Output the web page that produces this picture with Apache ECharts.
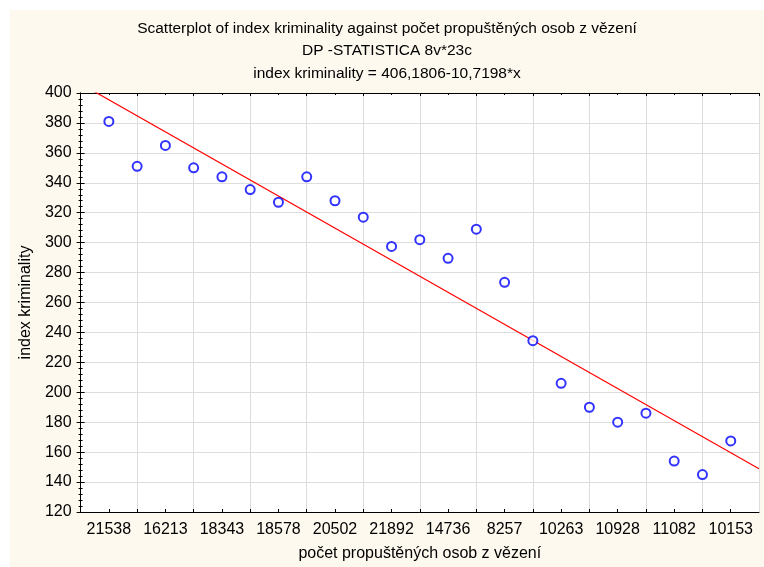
<!DOCTYPE html>
<html>
<head>
<meta charset="utf-8">
<script src="https://cdn.jsdelivr.net/npm/echarts@6/dist/echarts.min.js"></script>
<style>
  html, body { margin: 0; padding: 0; background: #ffffff; }
  #chart { position: absolute; left: 10px; top: 10px; width: 754px; height: 557px; background: #fdf9ef; }
</style>
</head>
<body>
<div id="chart"></div>
<script>
// case labels (pocet propustenych osob z vezeni), shown at odd positions
const caseLabels = ['21538', '16213', '18343', '18578', '20502', '21892', '14736', '8257', '10263', '10928', '11082', '10153']
// index kriminality per case, cases 1..23
const crimeIndex = [381, 351, 365, 350, 344, 335.5, 327, 344, 328, 317, 297.5, 302, 289.5, 309, 273.5, 234.5, 206, 190, 180, 186, 154, 145, 167.5]
// regression: index kriminality = 406,1806 - 10,7198 * x
const intercept = 406.1806
const slope = -10.7198
const xMin = 0
const xMax = 24

const points = crimeIndex.map((v, i) => [i + 1, v])
const fitLine = [xMin, xMax].map(x => [x, intercept + slope * x])

const font = 'Liberation Sans, Arial, sans-serif'
const gridColor = '#dddddd'

const chart = echarts.init(document.getElementById('chart'))
chart.setOption({
  animation: false,
  title: {
    text: 'Scatterplot of index kriminality against počet propuštěných osob z vězení\nDP -STATISTICA 8v*23c\nindex kriminality = 406,1806-10,7198*x',
    left: 'center',
    top: 2,
    textStyle: { fontFamily: font, fontSize: 15.5, fontWeight: 'normal', color: '#000', lineHeight: 22.5 }
  },
  grid: { left: 70, top: 83, right: 5, bottom: 44, show: true, backgroundColor: '#ffffff', borderWidth: 0 },
  xAxis: [
    {
      type: 'value', position: 'bottom', min: xMin, max: xMax, interval: 1,
      name: 'počet propuštěných osob z vězení', nameLocation: 'middle', nameGap: 34,
      nameTextStyle: { fontFamily: font, fontSize: 16, color: '#000' },
      axisLine: { lineStyle: { color: '#000', width: 1 } },
      axisTick: { inside: true, length: 3, lineStyle: { color: '#000' } },
      axisLabel: {
        fontFamily: font, fontSize: 16, color: '#000', margin: 10,
        showMinLabel: false, showMaxLabel: false,
        formatter: v => (v % 2 === 1 ? caseLabels[(v - 1) / 2] : '')
      },
      splitLine: { show: false }
    },
    {
      type: 'value', position: 'top', min: xMin, max: xMax, interval: 2,
      axisLine: { lineStyle: { color: '#000', width: 1 } },
      axisTick: { inside: true, length: 3, lineStyle: { color: '#000' } },
      minorTick: { show: true, splitNumber: 2, length: 2, lineStyle: { color: '#000' } },
      axisLabel: { show: false },
      splitLine: { show: true, lineStyle: { color: gridColor, width: 1 } }
    }
  ],
  yAxis: [
    {
      type: 'value', position: 'left', min: 120, max: 400, interval: 20,
      name: 'index kriminality', nameLocation: 'middle', nameGap: 46,
      nameTextStyle: { fontFamily: font, fontSize: 16, color: '#000' },
      axisLine: { show: true, lineStyle: { color: '#000', width: 1 } },
      axisTick: { show: true, inside: true, length: 4, lineStyle: { color: '#000' } },
      minorTick: { show: true, splitNumber: 5, length: 2, lineStyle: { color: '#000' } },
      axisLabel: { fontFamily: font, fontSize: 16, color: '#000', margin: 9 },
      splitLine: { show: true, lineStyle: { color: gridColor, width: 1 } }
    },
    {
      type: 'value', position: 'right', min: 120, max: 400, interval: 20,
      axisLine: { show: true, lineStyle: { color: '#000', width: 1 } },
      axisTick: { show: true, inside: true, length: 4, lineStyle: { color: '#000' } },
      minorTick: { show: true, splitNumber: 5, length: 2, lineStyle: { color: '#000' } },
      axisLabel: { show: false },
      splitLine: { show: false }
    }
  ],
  series: [
    {
      type: 'line',
      data: fitLine,
      xAxisIndex: 0,
      yAxisIndex: 0,
      symbol: 'none',
      clip: true,
      lineStyle: { color: '#ff0000', width: 1.2 },
      z: 2
    },
    {
      type: 'scatter',
      data: points,
      xAxisIndex: 0,
      yAxisIndex: 0,
      symbol: 'emptyCircle',
      symbolSize: 9,
      itemStyle: { color: '#0000ff', borderColor: '#0000ff', borderWidth: 1.7 },
      z: 3
    }
  ]
})
</script>
</body>
</html>
